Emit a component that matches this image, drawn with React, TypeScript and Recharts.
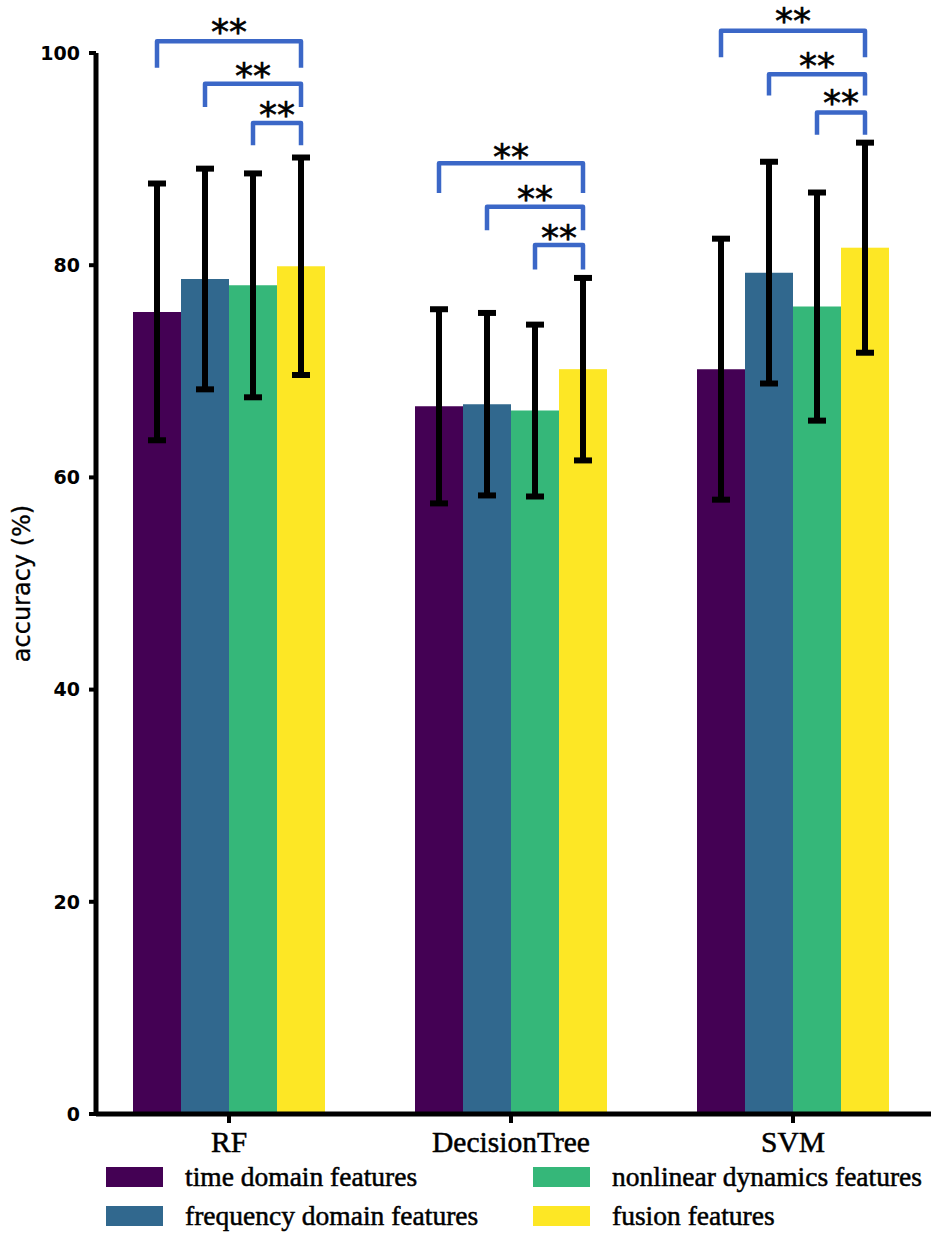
import { BarChart, Bar, XAxis, YAxis, ErrorBar, Legend } from "recharts";

const categories = ["RF", "DecisionTree", "SVM"];

const seriesNames = [
  "time domain features",
  "frequency domain features",
  "nonlinear dynamics features",
  "fusion features",
];
const seriesKeys = ["time", "frequency", "nonlinear", "fusion"];
const seriesColors = ["#440154", "#31688e", "#35b779", "#fde725"];

const timeDomain = [75.6, 66.7, 70.2];
const timeDomainSd = [12.1, 9.15, 12.3];
const frequencyDomain = [78.7, 66.9, 79.3];
const frequencyDomainSd = [10.4, 8.6, 10.45];
const nonlinearDynamics = [78.1, 66.3, 76.1];
const nonlinearDynamicsSd = [10.55, 8.1, 10.75];
const fusionFeatures = [79.9, 70.2, 81.65];
const fusionFeaturesSd = [10.25, 8.6, 9.9];

const yTicks = [0, 20, 40, 60, 80, 100];

// significance brackets per classifier: fusion vs [time, frequency, nonlinear]
const bracketTop = [
  [101.1, 97.1, 93.4],
  [89.6, 85.5, 81.9],
  [102.1, 98.0, 94.4],
];
const bracketFoot = [
  [98.6, 94.9, 91.3],
  [86.8, 83.3, 79.6],
  [99.6, 96.0, 92.3],
];
const starLevel = [
  [102.7, 98.5, 94.9],
  [90.9, 86.9, 83.3],
  [103.7, 99.5, 96.0],
];
const starText = "**";

const values = [timeDomain, frequencyDomain, nonlinearDynamics, fusionFeatures];
const errors = [timeDomainSd, frequencyDomainSd, nonlinearDynamicsSd, fusionFeaturesSd];

const data = categories.map((name, i) => {
  const row: Record<string, any> = { name };
  seriesKeys.forEach((k, s) => {
    row[k] = values[s][i];
    row[k + "Sd"] = errors[s][i];
  });
  return row;
});

function FusionWithBrackets(props: any) {
  const { x, y, width, height, fill, payload } = props;
  const g = categories.indexOf(payload.name);
  const unit = height / payload.fusion;
  const base = y + height;
  const py = (v: number) => base - v * unit;
  const right = x + width / 2;
  return (
    <g>
      <rect x={x} y={y} width={width} height={height} fill={fill} />
      {bracketTop[g].map((top, k) => {
        const left = right - (3 - k) * width;
        const foot = py(bracketFoot[g][k]);
        return (
          <g key={k}>
            <path
              d={`M${left},${foot}V${py(top)}H${right}V${foot}`}
              fill="none"
              stroke="#3b67c7"
              strokeWidth={4.5}
              strokeLinejoin="round"
            />
            <text
              x={(left + right) / 2}
              y={py(starLevel[g][k])}
              dy="0.54em"
              textAnchor="middle"
              fontFamily="DejaVu Sans"
              fontSize={36}
              fill="#000"
              stroke="#000"
              strokeWidth={0.6}
            >
              {starText}
            </text>
          </g>
        );
      })}
    </g>
  );
}

function LegendBox() {
  return (
    <div
      style={{
        display: "grid",
        gridTemplateColumns: "427px 1fr",
        gridTemplateRows: "repeat(2, 39px)",
        gridAutoFlow: "column",
      }}
    >
      {seriesNames.map((n, i) => (
        <div key={n} style={{ display: "flex", alignItems: "center" }}>
          <span
            style={{
              display: "inline-block",
              width: 57,
              height: 20,
              background: seriesColors[i],
              marginRight: 22,
            }}
          />
          <span
            style={{
              fontFamily: "Liberation Serif",
              fontSize: 27.5,
              color: "#000",
              WebkitTextStroke: "0.5px #000",
            }}
          >
            {n}
          </span>
        </div>
      ))}
    </div>
  );
}

export default function App() {
  return (
    <div style={{ width: 935, height: 1236, background: "#fff" }}>
      <style>{"body{margin:0}"}</style>
      <BarChart
        width={935}
        height={1236}
        data={data}
        margin={{ top: 53, right: 4, bottom: 0, left: 0 }}
        barGap={0}
        barSize={48}
      >
        <XAxis
          dataKey="name"
          height={122}
          padding={{ left: -8, right: -3 }}
          axisLine={{ stroke: "#000", strokeWidth: 5 }}
          tickLine={{ stroke: "#000", strokeWidth: 4 }}
          tickSize={9}
          tickMargin={8}
          tick={{
            fill: "#000",
            stroke: "#000",
            strokeWidth: 0.5,
            fontFamily: "Liberation Serif",
            fontSize: 29.5,
          }}
        />
        <YAxis
          width={96}
          domain={[0, 100]}
          ticks={yTicks}
          axisLine={{ stroke: "#000", strokeWidth: 5 }}
          tickLine={{ stroke: "#000", strokeWidth: 4 }}
          tickSize={7}
          tickMargin={9}
          tick={{ fill: "#000", fontFamily: "DejaVu Sans", fontWeight: "bold", fontSize: 19 }}
          label={{
            value: "accuracy (%)",
            angle: -90,
            position: "insideLeft",
            offset: 21.5,
            style: {
              textAnchor: "middle",
              fontFamily: "DejaVu Sans",
              fontSize: 24,
              fill: "#000",
              stroke: "#000",
              strokeWidth: 0.3,
            },
          }}
        />
        {seriesKeys.map((k, s) => (
          <Bar
            key={k}
            dataKey={k}
            name={seriesNames[s]}
            fill={seriesColors[s]}
            isAnimationActive={false}
            shape={k === "fusion" ? FusionWithBrackets : undefined}
          >
            <ErrorBar
              dataKey={k + "Sd"}
              width={9}
              strokeWidth={6}
              stroke="#000"
              isAnimationActive={false}
            />
          </Bar>
        ))}
        <Legend
          layout="horizontal"
          verticalAlign="middle"
          align="center"
          wrapperStyle={{ top: 1157.5, left: 106, width: 829, height: 78 }}
          content={() => <LegendBox />}
        />
      </BarChart>
    </div>
  );
}
